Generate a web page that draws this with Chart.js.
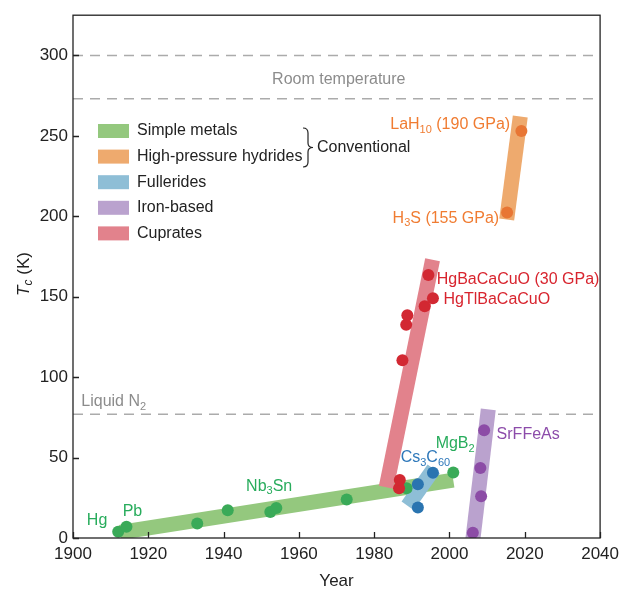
<!DOCTYPE html>
<html>
<head>
<meta charset="utf-8">
<script src="https://cdn.jsdelivr.net/npm/chart.js@4.4.0/dist/chart.umd.min.js"></script>
<style>
  body { margin: 0; background: #fff; }
  #wrap { width: 625px; height: 592px; }
</style>
</head>
<body>
<div id="wrap"><canvas id="myChart" width="625" height="592"></canvas></div>
<script>
// tick labels
var xTicks = [1900, 1920, 1940, 1960, 1980, 2000, 2020, 2040];
var yTicks = [0, 50, 100, 150, 200, 250, 300];

// reference temperatures (K)
var roomTemp = [273, 300];
var liquidN2 = 77;

// simple metals: Hg, Pb, Nb, NbN, V3Si, Nb3Sn, Nb3Ge, BaKBiO, MgB2
var metalYears = [1912, 1914.2, 1933, 1941.1, 1952.4, 1954, 1972.7, 1988.6, 2001];
var metalTc = [3.9, 7, 9, 17.2, 16.2, 18.6, 24, 31, 40.7];
var metalBandYears = [1912.5, 2001];
var metalBandTc = [3.5, 36];

// high-pressure hydrides: H3S, LaH10
var hydrideYears = [2015.3, 2019.1];
var hydrideTc = [202.3, 253];
var hydrideBandYears = [2015.2, 2018.8];
var hydrideBandTc = [198, 262];

// fullerides
var fullerideYears = [1991.6, 1991.6, 1995.6];
var fullerideTc = [18.9, 33.4, 40.6];
var fullerideBandYears = [1988.9, 1995.8];
var fullerideBandTc = [20, 43];

// iron-based
var ironYears = [2006.2, 2008.4, 2008.2, 2009.2];
var ironTc = [3.3, 26, 43.5, 67];
var ironBandYears = [2006.2, 2010.3];
var ironBandTc = [-1, 80];

// cuprates
var cuprateYears = [1986.6, 1986.8, 1987.5, 1988.5, 1988.8, 1993.4, 1994.4, 1995.6];
var cuprateTc = [31, 36, 110.5, 132.5, 138.5, 144, 163.5, 149];
var cuprateBandYears = [1983.2, 1995.5];
var cuprateBandTc = [31.5, 173];

// colours
var green = { band: 'rgb(148,200,126)', dot: 'rgb(58,170,88)', text: 'rgb(40,172,92)' };
var orange = { band: 'rgb(238,170,110)', dot: 'rgb(232,118,52)', text: 'rgb(240,124,50)' };
var blue = { band: 'rgb(142,190,214)', dot: 'rgb(42,116,176)', text: 'rgb(46,120,186)' };
var purple = { band: 'rgb(186,162,206)', dot: 'rgb(140,76,166)', text: 'rgb(140,76,170)' };
var red = { band: 'rgb(226,130,140)', dot: 'rgb(210,40,50)', text: 'rgb(216,36,46)' };

var FONT = '"Liberation Sans", Arial, Helvetica, sans-serif';

// annotations: text, anchor year, anchor Tc, alignment, colour
var labels = [
  { text: 'Hg', x: 1906.4, y: 10.6, align: 'center', color: green.text },
  { text: 'Pb', x: 1915.8, y: 16.3, align: 'center', color: green.text },
  { text: 'Nb_{3}Sn', x: 1952.1, y: 32.1, align: 'center', color: green.text },
  { text: 'MgB_{2}', x: 2001.5, y: 58.4, align: 'center', color: green.text },
  { text: 'Cs_{3}C_{60}', x: 1993.6, y: 49.8, align: 'center', color: blue.text },
  { text: 'SrFFeAs', x: 2020.9, y: 64.5, align: 'center', color: purple.text },
  { text: 'HgBaCaCuO (30 GPa)', x: 1996.6, y: 160.8, align: 'left', color: red.text },
  { text: 'HgTlBaCaCuO', x: 1998.4, y: 148.1, align: 'left', color: red.text },
  { text: 'LaH_{10} (190 GPa)', x: 2016.1, y: 256.7, align: 'right', color: orange.text },
  { text: 'H_{3}S (155 GPa)', x: 2013.2, y: 198.7, align: 'right', color: orange.text },
  { text: 'Room temperature', x: 1970.6, y: 284.8, align: 'center', color: '#8c8c8c' },
  { text: 'Liquid N_{2}', x: 1902.2, y: 84.6, align: 'left', color: '#8c8c8c' }
];

var legendNames = ['Simple metals', 'High-pressure hydrides', 'Fullerides', 'Iron-based', 'Cuprates'];
var legendColors = [green.band, orange.band, blue.band, purple.band, red.band];

function pts(xs, ys) {
  return xs.map(function(x, i) { return { x: x, y: ys[i] }; });
}

function band(xs, ys, color, order) {
  return { data: pts(xs, ys), showLine: true, borderColor: color, borderWidth: 15,
    borderCapStyle: 'butt', pointRadius: 0, clip: 0, order: order };
}

function dots(xs, ys, color, order) {
  return { data: pts(xs, ys), showLine: false, backgroundColor: color, borderWidth: 0,
    pointRadius: 6, pointHoverRadius: 6, order: order };
}

function hline(v) {
  return { data: [{ x: 1900, y: v }, { x: 2040, y: v }], showLine: true, borderColor: '#ababab',
    borderWidth: 1.5, borderDash: [10, 7], pointRadius: 0, order: 20 };
}

// draws text with _{sub} parts
function drawRich(ctx, str, x, y, align, color, size) {
  var parts = str.split(/_\{([^}]*)\}/);
  var subSize = Math.round(size * 0.68);
  var w = 0;
  parts.forEach(function(p, i) {
    ctx.font = (i % 2 ? subSize : size) + 'px ' + FONT;
    w += ctx.measureText(p).width;
  });
  var cx = align === 'center' ? x - w / 2 : (align === 'right' ? x - w : x);
  ctx.fillStyle = color;
  ctx.textAlign = 'left';
  ctx.textBaseline = 'middle';
  parts.forEach(function(p, i) {
    var sub = i % 2 === 1;
    ctx.font = (sub ? subSize : size) + 'px ' + FONT;
    ctx.fillText(p, cx, sub ? y + size * 0.3 : y);
    cx += ctx.measureText(p).width;
  });
}

var decorations = {
  id: 'decorations',
  afterDraw: function(chart) {
    var ctx = chart.ctx;
    var a = chart.chartArea;
    var xs = chart.scales.x, ys = chart.scales.y;
    ctx.save();

    // frame and inward ticks
    ctx.strokeStyle = '#222';
    ctx.lineWidth = 1.3;
    ctx.strokeRect(a.left, a.top, a.right - a.left, a.bottom - a.top);
    ctx.beginPath();
    xTicks.forEach(function(v) {
      var px = Math.round(xs.getPixelForValue(v)) + 0.5;
      ctx.moveTo(px, a.bottom); ctx.lineTo(px, a.bottom - 6);
    });
    yTicks.forEach(function(v) {
      var py = Math.round(ys.getPixelForValue(v)) + 0.5;
      ctx.moveTo(a.left, py); ctx.lineTo(a.left + 6, py);
    });
    ctx.stroke();

    // annotations
    labels.forEach(function(l) {
      drawRich(ctx, l.text, xs.getPixelForValue(l.x), ys.getPixelForValue(l.y), l.align, l.color, 16);
    });

    // legend
    legendNames.forEach(function(name, i) {
      var cy = 131 + i * 25.6;
      ctx.fillStyle = legendColors[i];
      ctx.fillRect(98, cy - 7, 31, 14);
      drawRich(ctx, name, 137, cy, 'left', '#222', 16);
    });
    // brace for the conventional group
    ctx.beginPath();
    ctx.strokeStyle = '#222';
    ctx.lineWidth = 1.2;
    ctx.moveTo(303, 128);
    ctx.quadraticCurveTo(308, 128, 308, 133);
    ctx.lineTo(308, 143);
    ctx.quadraticCurveTo(308, 147.5, 313, 147.5);
    ctx.quadraticCurveTo(308, 147.5, 308, 152);
    ctx.lineTo(308, 162);
    ctx.quadraticCurveTo(308, 167, 303, 167);
    ctx.stroke();
    drawRich(ctx, 'Conventional', 317, 147.5, 'left', '#222', 16);

    // axis titles
    drawRich(ctx, 'Year', (a.left + a.right) / 2, 581, 'center', '#222', 17);
    ctx.translate(24, 274);
    ctx.rotate(-Math.PI / 2);
    ctx.fillStyle = '#222';
    ctx.textBaseline = 'middle';
    ctx.textAlign = 'left';
    ctx.font = 'italic 17px ' + FONT;
    var wT = ctx.measureText('T').width;
    ctx.font = '12px ' + FONT;
    var wc = ctx.measureText('c').width;
    ctx.font = '17px ' + FONT;
    var wK = ctx.measureText(' (K)').width;
    var sx = -(wT + wc + wK) / 2;
    ctx.font = 'italic 17px ' + FONT;
    ctx.fillText('T', sx, 0);
    ctx.font = 'italic 12px ' + FONT;
    ctx.fillText('c', sx + wT, 5);
    ctx.font = '17px ' + FONT;
    ctx.fillText(' (K)', sx + wT + wc, 0);
    ctx.restore();
  }
};

document.addEventListener('DOMContentLoaded', function() {
  var ctx = document.getElementById('myChart').getContext('2d');
  var myChart = new Chart(ctx, {
    type: 'scatter',
    data: {
      datasets: [
        dots(cuprateYears, cuprateTc, red.dot, 1),
        dots(metalYears, metalTc, green.dot, 2),
        dots(fullerideYears, fullerideTc, blue.dot, 3),
        dots(ironYears, ironTc, purple.dot, 4),
        dots(hydrideYears, hydrideTc, orange.dot, 5),
        band(fullerideBandYears, fullerideBandTc, blue.band, 10),
        band(cuprateBandYears, cuprateBandTc, red.band, 11),
        band(metalBandYears, metalBandTc, green.band, 12),
        band(ironBandYears, ironBandTc, purple.band, 13),
        band(hydrideBandYears, hydrideBandTc, orange.band, 14),
        hline(roomTemp[0]),
        hline(roomTemp[1]),
        hline(liquidN2)
      ]
    },
    options: {
      responsive: false,
      animation: false,
      events: [],
      layout: { padding: { top: 10, right: 24, left: 0, bottom: 0 } },
      plugins: { legend: { display: false }, tooltip: { enabled: false } },
      scales: {
        x: {
          type: 'linear', min: 1900, max: 2040,
          afterBuildTicks: function(axis) { axis.ticks = xTicks.map(function(v) { return { value: v }; }); },
          afterFit: function(axis) { axis.height = 54; },
          ticks: { color: '#222', font: { family: FONT, size: 17 }, padding: 6, maxRotation: 0,
            callback: function(v) { return String(v); } },
          grid: { display: false, drawTicks: false },
          border: { display: false }
        },
        y: {
          type: 'linear', min: 0, max: 325,
          afterBuildTicks: function(axis) { axis.ticks = yTicks.map(function(v) { return { value: v }; }); },
          afterFit: function(axis) { axis.width = 73; },
          ticks: { color: '#222', font: { family: FONT, size: 17 }, padding: 5 },
          grid: { display: false, drawTicks: false },
          border: { display: false }
        }
      }
    },
    plugins: [decorations]
  });
});
</script>
</body>
</html>
